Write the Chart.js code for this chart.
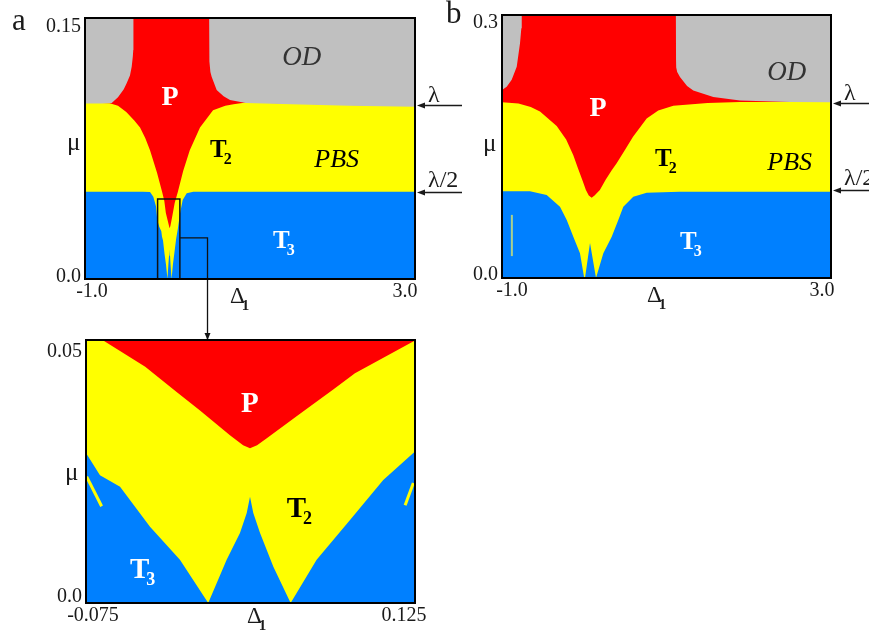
<!DOCTYPE html>
<html><head><meta charset="utf-8">
<script src="https://cdn.jsdelivr.net/npm/chart.js@4.4.0/dist/chart.umd.min.js"></script>
<style>
html,body{margin:0;padding:0;background:#fff;width:869px;height:631px;overflow:hidden}
canvas{position:absolute;left:0;top:0}
</style></head><body>
<canvas id="ca" width="869" height="631"></canvas>
<canvas id="cb" width="869" height="631"></canvas>
<canvas id="cc" width="869" height="631"></canvas>
<script>
// ---------- Panel a : Δ1 in [-1,3], μ in [0,0.15] ----------
const aXTicks = [-1, 3];          const aXTickLabels = ['-1.0', '3.0'];
const aYTicks = [0, 0.15];        const aYTickLabels = ['0.0', '0.15'];
const aLambda = [0.1, 0.05];      // λ and λ/2 arrow levels
const aTopX = [-1, 3];            const aTopY = [0.15, 0.15];
const aPbsTopX = [-1, -0.80, -0.70, -0.60, -0.50, -0.40, -0.333, -0.27, -0.212, -0.127, -0.065, -0.039, -0.020, 0.0, 0.0125, 0.025, 0.035, 0.055, 0.075, 0.087, 0.125, 0.19, 0.27, 0.394, 0.552, 0.70, 0.80, 0.95, 1.5, 2.2, 3];
const aPbsTopY = [0.1012, 0.1012, 0.1010, 0.0995, 0.096, 0.091, 0.087, 0.081, 0.074, 0.061, 0.050, 0.0449, 0.038, 0.034, 0.0316, 0.0292, 0.0304, 0.0354, 0.0405, 0.0437, 0.050, 0.062, 0.074, 0.087, 0.097, 0.0995, 0.1005, 0.1015, 0.1008, 0.1, 0.0994];
const aOdBottomX = [-1, -0.80, -0.676, -0.60, -0.53, -0.495, -0.455, -0.434, -0.42, -0.415, -0.413, 0.505, 0.507, 0.509, 0.52, 0.535, 0.596, 0.68, 0.758, 0.95, 1.5, 2.2, 3];
const aOdBottomY = [0.1008, 0.1008, 0.1012, 0.1045, 0.109, 0.1125, 0.117, 0.122, 0.128, 0.1316, 0.15, 0.15, 0.1316, 0.125, 0.119, 0.1163, 0.1086, 0.105, 0.1029, 0.1011, 0.1004, 0.0996, 0.099];
const aT3TopX = [-1, -0.30, -0.212, -0.172, -0.139, -0.124, -0.10, -0.075, -0.0665, -0.0543, -0.0361, -0.0179, -0.0007, 0.0105, 0.0186, 0.0227, 0.0247, 0.0267, 0.0308, 0.0389, 0.0494, 0.0652, 0.0855, 0.1057, 0.125, 0.152, 0.184, 0.233, 0.313, 3];
const aT3TopY = [0.0502, 0.0502, 0.0500, 0.0473, 0.0417, 0.0339, 0.030, 0.0275, 0.0243, 0.0221, 0.0145, 0.0082, 0.0, 0.0082, 0.0133, 0.0171, 0.0202, 0.0171, 0.0133, 0.0069, 0.0, 0.0082, 0.0158, 0.0234, 0.0288, 0.0378, 0.0454, 0.0493, 0.0502, 0.0502];
const aBoxX = [-0.12, -0.12, 0.15, 0.15];        const aBoxY = [0, 0.046, 0.046, 0];
const aLinkX = [0.15, 0.485, 0.485];             const aLinkY = [0.0236, 0.0236, -0.0345];

// ---------- Panel b : Δ1 in [-1,3], μ in [0,0.3] ----------
const bXTicks = [-1, 3];          const bXTickLabels = ['-1.0', '3.0'];
const bYTicks = [0, 0.3];         const bYTickLabels = ['0.0', '0.3'];
const bLambda = [0.2, 0.1];
const bTopX = [-1, 3];            const bTopY = [0.3, 0.3];
const bPbsTopX = [-1, -0.80, -0.65, -0.538, -0.335, -0.22, -0.133, -0.08, -0.02, 0.02, 0.055, 0.09, 0.125, 0.19, 0.26, 0.334, 0.394, 0.50, 0.593, 0.759, 0.90, 1.083, 1.5, 1.894, 3];
const bPbsTopY = [0.2005, 0.199, 0.195, 0.190, 0.1735, 0.158, 0.140, 0.126, 0.111, 0.1005, 0.094, 0.0915, 0.094, 0.1005, 0.112, 0.123, 0.131, 0.147, 0.161, 0.182, 0.191, 0.1965, 0.1995, 0.2008, 0.201];
const bOdBottomX = [-1, -0.943, -0.882, -0.821, -0.781, -0.765, -0.760, 1.114, 1.116, 1.118, 1.13, 1.164, 1.25, 1.326, 1.569, 1.894, 2.5, 3];
const bOdBottomY = [0.2144, 0.2182, 0.226, 0.241, 0.2677, 0.285, 0.30, 0.30, 0.2487, 0.24, 0.235, 0.2293, 0.219, 0.214, 0.2065, 0.2026, 0.2008, 0.2004];
const bT3TopX = [-1, -0.66, -0.457, -0.295, -0.213, -0.133, -0.052, -0.003, 0.009, 0.07, 0.143, 0.232, 0.334, 0.414, 0.475, 0.596, 0.759, 1.16, 3];
const bT3TopY = [0.099, 0.099, 0.0947, 0.0813, 0.0662, 0.0471, 0.0282, 0.0015, 0.0, 0.040, 0.0, 0.0282, 0.0471, 0.0662, 0.0813, 0.0927, 0.0973, 0.0984, 0.0985];
const bStreakX = [-0.88, -0.88];  const bStreakY = [0.025, 0.072];

// ---------- Zoomed panel : Δ1 in [-0.075,0.125], μ in [0,0.05] ----------
const cXTicks = [-0.075, 0.125];  const cXTickLabels = ['-0.075', '0.125'];
const cYTicks = [0, 0.05];        const cYTickLabels = ['0.0', '0.05'];
const cTopX = [-0.075, 0.125];    const cTopY = [0.05, 0.05];
const cPBottomX = [-0.075, -0.065, -0.039, -0.0199, -0.0057, 0.0125, 0.0205, 0.0247, 0.029, 0.0349, 0.0551, 0.0753, 0.0885, 0.125];
const cPBottomY = [0.05, 0.05, 0.0449, 0.0401, 0.0366, 0.0319, 0.0300, 0.0294, 0.0300, 0.0313, 0.0360, 0.0406, 0.0437, 0.0499];
const cT3TopX = [-0.075, -0.0665, -0.0543, -0.0361, -0.0179, -0.0007, 0.0105, 0.0186, 0.0227, 0.0247, 0.0267, 0.0308, 0.0389, 0.0494, 0.0652, 0.0855, 0.1057, 0.125];
const cT3TopY = [0.0285, 0.0243, 0.0221, 0.0145, 0.0082, 0.0, 0.0082, 0.0133, 0.0171, 0.0202, 0.0171, 0.0133, 0.0069, 0.0, 0.0082, 0.0158, 0.0234, 0.0288];
const cSliverLX = [-0.0746, -0.0655]; const cSliverLY = [0.024, 0.0184];
const cSliverRX = [0.119, 0.124];     const cSliverRY = [0.0186, 0.0228];

// ---------- styling ----------
const RED = '#ff0000', YEL = '#ffff00', BLUE = '#0080ff', GRAY = '#c0c0c0';
const SERIF = '"Liberation Serif", "Times New Roman", serif';

function pts(xs, ys) { return xs.map((x, i) => ({x: x, y: ys[i]})); }
function area(xs, ys, color, fill, order) {
  return {data: pts(xs, ys), fill: fill, backgroundColor: color, borderColor: 'rgba(0,0,0,0)',
          borderWidth: 0, pointRadius: 0, tension: 0, order: order};
}
function stroke(xs, ys, color, width, order, noclip) {
  const d = {data: pts(xs, ys), fill: false, borderColor: color, borderWidth: width,
             pointRadius: 0, tension: 0, order: order};
  if (noclip) d.clip = false;
  return d;
}

function drawText(ctx, x, y, main, sub, font, subFont, color) {
  ctx.font = font; ctx.fillStyle = color; ctx.textAlign = 'left'; ctx.textBaseline = 'alphabetic';
  ctx.fillText(main, x, y);
  if (sub) {
    const w = ctx.measureText(main).width;
    ctx.font = subFont;
    ctx.fillText(sub, x + w - 3, y + 7);
  }
}

const decor = {
  id: 'decor',
  afterDatasetsDraw(chart, args, o) {
    const ctx = chart.ctx, ca = chart.chartArea, sx = chart.scales.x, sy = chart.scales.y;
    ctx.save();
    // frame
    ctx.strokeStyle = '#000'; ctx.lineWidth = 2;
    ctx.strokeRect(ca.left, ca.top, ca.right - ca.left, ca.bottom - ca.top);
    // tick labels
    ctx.fillStyle = '#1a1a1a'; ctx.font = '20px ' + SERIF; ctx.textBaseline = 'alphabetic';
    ctx.textAlign = 'center';
    o.xTicks.forEach((v, i) => ctx.fillText(o.xLabels[i], sx.getPixelForValue(v) + o.xDx[i], ca.bottom + 18));
    ctx.textAlign = 'right';
    o.yTicks.forEach((v, i) => ctx.fillText(o.yLabels[i], ca.left - 4, sy.getPixelForValue(v) + o.yDy[i]));
    // axis titles
    ctx.textAlign = 'left';
    ctx.font = '25px ' + SERIF; ctx.fillStyle = '#1a1a1a';
    ctx.fillText('μ', ca.left + o.mu[0], (ca.top + ca.bottom) / 2 + o.mu[1]);
    drawText(ctx, ca.left + o.delta[0], ca.bottom + o.delta[1], 'Δ', '1', '23px ' + SERIF, 'bold 15px ' + SERIF, '#1a1a1a');
    // region labels
    o.labels.forEach(l => drawText(ctx, sx.getPixelForValue(l.x), sy.getPixelForValue(l.y), l.t, l.s, l.f, l.sf, l.c));
    // λ arrows
    if (o.arrows) {
      o.arrows.forEach(a => {
        const y = Math.round(sy.getPixelForValue(a.v)) + 0.5;
        ctx.strokeStyle = '#1a1a1a'; ctx.lineWidth = 1.3;
        ctx.beginPath(); ctx.moveTo(ca.right + 8, y); ctx.lineTo(ca.right + 47, y); ctx.stroke();
        ctx.fillStyle = '#1a1a1a';
        ctx.beginPath(); ctx.moveTo(ca.right + 2, y); ctx.lineTo(ca.right + 10, y - 3); ctx.lineTo(ca.right + 10, y + 3); ctx.closePath(); ctx.fill();
        ctx.font = '24px ' + SERIF; ctx.textAlign = 'left';
        ctx.fillText(a.t, ca.right + 13, y + a.dy);
      });
    }
    // link arrowhead
    if (o.linkTip) {
      const x = sx.getPixelForValue(o.linkTip[0]), y = sy.getPixelForValue(o.linkTip[1]);
      ctx.fillStyle = '#111';
      ctx.beginPath(); ctx.moveTo(x, y + 1); ctx.lineTo(x - 3, y - 6); ctx.lineTo(x + 3, y - 6); ctx.closePath(); ctx.fill();
    }
    // panel letter
    if (o.letter) {
      ctx.font = '31px ' + SERIF; ctx.fillStyle = '#1a1a1a'; ctx.textAlign = 'left';
      ctx.fillText(o.letter[0], o.letter[1], o.letter[2]);
    }
    ctx.restore();
  }
};
Chart.register(decor);

function makeChart(id, pad, xr, yr, datasets, decorOpts) {
  return new Chart(document.getElementById(id), {
    type: 'line',
    data: {datasets: datasets},
    options: {
      responsive: false, animation: false, events: [],
      layout: {padding: pad},
      scales: {
        x: {type: 'linear', min: xr[0], max: xr[1], display: false},
        y: {type: 'linear', min: yr[0], max: yr[1], display: false}
      },
      plugins: {legend: {display: false}, tooltip: {enabled: false}, decor: decorOpts}
    }
  });
}

const bT = (s) => 'bold ' + s + 'px ' + SERIF;
const iT = (s) => 'italic ' + s + 'px ' + SERIF;

makeChart('ca', {left: 85, top: 18, right: 454, bottom: 352}, [-1, 3], [0, 0.15], [
  area(aTopX, aTopY, RED, 'start', 6),
  area(aPbsTopX, aPbsTopY, YEL, 'start', 5),
  area(aOdBottomX, aOdBottomY, GRAY, 'end', 4),
  area(aT3TopX, aT3TopY, BLUE, 'start', 3),
  stroke(aBoxX, aBoxY, '#111', 1.5, 1),
  stroke(aLinkX, aLinkY, '#111', 1.3, 1, true)
], {
  xTicks: aXTicks, xLabels: aXTickLabels, xDx: [7, -10],
  yTicks: aYTicks, yLabels: aYTickLabels, yDy: [2.5, 14],
  mu: [-18, 1.5], delta: [145, 24],
  labels: [
    {t: 'OD', x: 1.39, y: 0.123, f: iT(27), c: '#333'},
    {t: 'P', x: -0.072, y: 0.100, f: bT(28), c: '#fff'},
    {t: 'T', s: '2', x: 0.515, y: 0.0703, f: bT(25), sf: bT(16), c: '#000'},
    {t: 'PBS', x: 1.78, y: 0.0644, f: iT(26), c: '#000'},
    {t: 'T', s: '3', x: 1.279, y: 0.0178, f: bT(25), sf: bT(16), c: '#fff'}
  ],
  arrows: [{v: aLambda[0], t: 'λ', dy: -4}, {v: aLambda[1], t: 'λ/2', dy: -6}],
  linkTip: [0.485, -0.0345],
  letter: ['a', 12, 30]
});

makeChart('cb', {left: 502, top: 15, right: 38, bottom: 353}, [-1, 3], [0, 0.3], [
  area(bTopX, bTopY, RED, 'start', 6),
  area(bPbsTopX, bPbsTopY, YEL, 'start', 5),
  area(bOdBottomX, bOdBottomY, GRAY, 'end', 4),
  area(bT3TopX, bT3TopY, BLUE, 'start', 3),
  stroke(bStreakX, bStreakY, '#a9d08e', 2, 1)
], {
  xTicks: bXTicks, xLabels: bXTickLabels, xDx: [10, -9],
  yTicks: bYTicks, yLabels: bYTickLabels, yDy: [2, 13],
  mu: [-19, 4], delta: [145, 24],
  labels: [
    {t: 'OD', x: 2.226, y: 0.2258, f: iT(27), c: '#333'},
    {t: 'P', x: 0.065, y: 0.1848, f: bT(28), c: '#fff'},
    {t: 'T', s: '2', x: 0.86, y: 0.1278, f: bT(25), sf: bT(16), c: '#000'},
    {t: 'PBS', x: 2.226, y: 0.123, f: iT(26), c: '#000'},
    {t: 'T', s: '3', x: 1.164, y: 0.033, f: bT(25), sf: bT(16), c: '#fff'}
  ],
  arrows: [{v: bLambda[0], t: 'λ', dy: -4}, {v: bLambda[1], t: 'λ/2', dy: -6}],
  letter: ['b', 446, 23]
});

makeChart('cc', {left: 86, top: 340, right: 454, bottom: 28}, [-0.075, 0.125], [0, 0.05], [
  area(cTopX, cTopY, YEL, 'start', 6),
  area(cPBottomX, cPBottomY, RED, 'end', 5),
  area(cT3TopX, cT3TopY, BLUE, 'start', 4),
  stroke(cSliverLX, cSliverLY, YEL, 3, 1),
  stroke(cSliverRX, cSliverRY, YEL, 3, 1)
], {
  xTicks: cXTicks, xLabels: cXTickLabels, xDx: [7, -11],
  yTicks: cYTicks, yLabels: cYTickLabels, yDy: [-1, 17],
  mu: [-21, 8.5], delta: [161, 20],
  labels: [
    {t: 'P', x: 0.0192, y: 0.0364, f: bT(29), c: '#fff'},
    {t: 'T', s: '2', x: 0.047, y: 0.0164, f: bT(29), sf: bT(18), c: '#000'},
    {t: 'T', s: '3', x: -0.0483, y: 0.00475, f: bT(29), sf: bT(18), c: '#fff'}
  ]
});
</script>
</body></html>
